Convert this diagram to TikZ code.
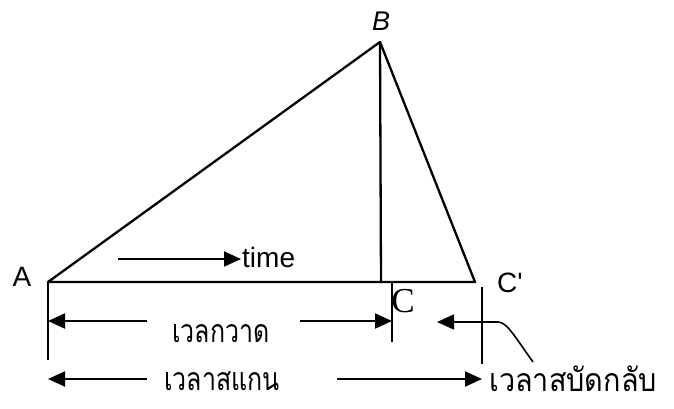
\documentclass[tikz,border=0pt]{standalone}
\usepackage{fontspec}
\usepackage{graphicx}
\setmainfont{Liberation Serif}
\newfontfamily\sans{Liberation Sans}
\newfontfamily\thaifont[Script=Thai]{Loma}
\usetikzlibrary{arrows.meta}
\begin{document}
\begin{tikzpicture}[x=1pt,y=-1pt,
  ln/.style={line width=2.3pt, line join=round},
  arr/.style={line width=2pt, -{Triangle[length=17pt,width=15pt]}},
  lbl/.style={inner sep=0pt, font=\sans\fontsize{28}{28}\selectfont},
  th/.style={inner sep=0pt, font=\thaifont\fontsize{32}{32}\selectfont}]
\useasboundingbox (0,0) rectangle (674,409);
% main points
\coordinate (A) at (48,282);
\coordinate (B) at (380,42);
\coordinate (C) at (381,282);
\coordinate (Cp) at (475,282);
\draw[ln] (A) -- (B) -- (Cp) -- cycle;
\draw[ln] (B) -- (C);
% labels
\node[lbl] (lA) at (22,277) {A};
\node[inner sep=0pt, font=\sans\itshape\fontsize{27}{27}\selectfont] (lB) at (381,21) {B};
\node[inner sep=0pt, font=\fontsize{35}{35}\selectfont] (lC) at (403,301) {C};
\node[lbl] (lCp) at (510,283) {C'};
% time arrow
\coordinate (t0) at (118,259);
\node[lbl, anchor=base west] (time) at (242,267) {time};
\draw[arr] (t0) -- ([xshift=-1pt]time.west |- t0);
% ticks
\coordinate (Atop) at (48,282);
\coordinate (Abot) at (48,360);
\draw[line width=2pt] (Atop) -- (Abot);
\coordinate (Ctop) at (392,283);
\coordinate (Cbot) at (392,342);
\draw[line width=2pt] (Ctop) -- (Cbot);
\coordinate (Cptop) at (482,287);
\coordinate (Cpbot) at (482,364);
\draw[line width=2pt] (Cptop) -- (Cpbot);
% sweep time
\node[th] (sweep) at (221,334) {\scalebox{0.78}[1]{เวลกวาด}};
\coordinate (s1) at (147,321);
\coordinate (s2) at (300,321);
\draw[arr] (s1) -- (Atop |- s1);
\draw[arr] (s2) -- (Ctop |- s2);
% retrace leader
\coordinate (r0) at (498,322);
\coordinate (r1) at (533,362);
\draw[line width=1.6pt, -{Triangle[length=17pt,width=15pt]}] (r1) .. controls (515,337) and (507,322) .. (r0) -- (437,322);
% scan time
\node[th] (scan) at (222,381) {\scalebox{0.78}[1]{เวลาสแกน}};
\coordinate (c1) at (147,379);
\coordinate (c2) at (337,379);
\draw[arr] (c1) -- (Atop |- c1);
\draw[arr] (c2) -- (Cptop |- c2);
% retrace time
\node[th, anchor=west] (retrace) at (489,379) {\scalebox{0.9}[1]{เวลาสบัดกลับ}};
\end{tikzpicture}
\end{document}
